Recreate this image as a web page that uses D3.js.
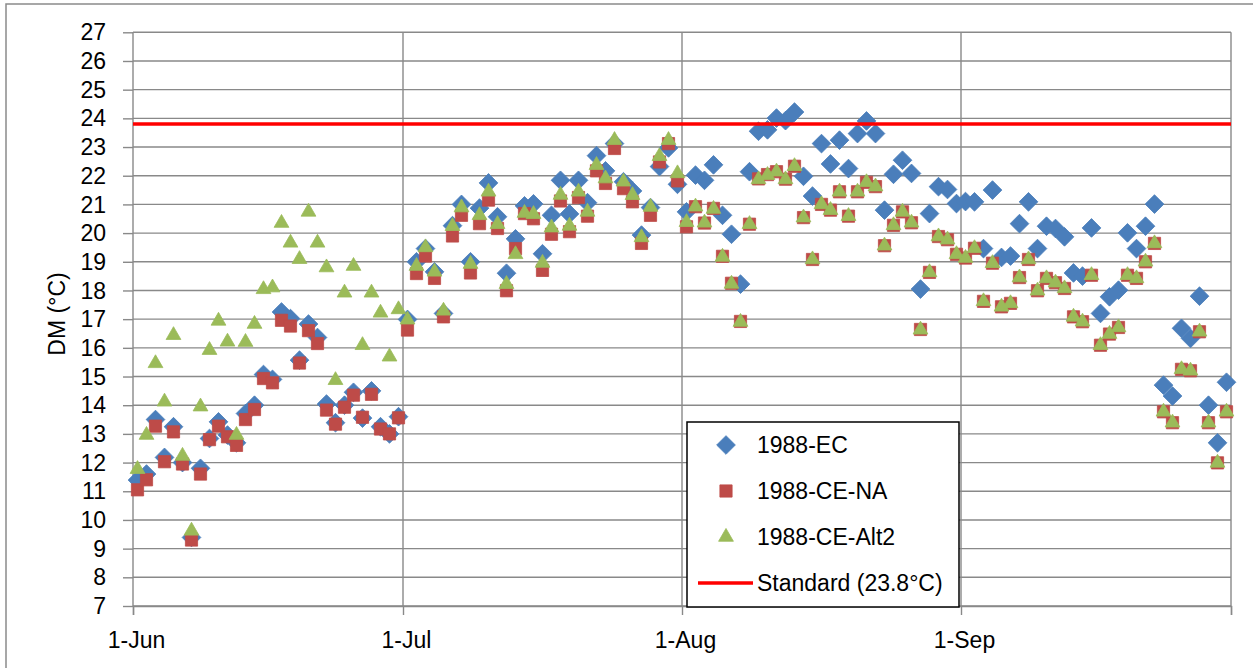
<!DOCTYPE html>
<html>
<head>
<meta charset="utf-8">
<script src="https://cdn.jsdelivr.net/npm/d3@7"></script>
<style>
    body { margin: 0; background: #fff; }
    text { font-family: "Liberation Sans", Arial, sans-serif; font-size: 23px; fill: #000; }
</style>
</head>
<body>
<div class="dmChart"></div>
<script>
// daily DM values (°C), 1-Jun .. 30-Sep 1988
const ec = [
    11.39, 11.6, 13.5, 12.18, 13.25, 12.0, 9.39, 11.8, 12.84, 13.42, 12.96, 12.69, 13.71, 14.0, 15.07,
    14.9, 17.25, 17.02, 15.57, 16.83, 16.36, 14.04, 13.39, 14.0, 14.45, 13.55, 14.5, 13.25, 13.0, 13.6,
    16.99, 19.0, 19.46, 18.65, 17.2, 20.26, 21.0, 19.0, 20.87, 21.75, 20.57, 18.6, 19.8, 20.95, 21.02, 19.28,
    20.62, 21.84, 20.67, 21.84, 21.06, 22.7, 22.17, 23.12, 21.79, 21.47, 19.93, 20.89, 22.32, 22.97, 21.7,
    20.74, 22.02, 21.84, 22.38, 20.62, 19.96, 18.22, 22.14, 23.55, 23.6, 24.01, 23.92, 24.22, 21.98, 21.29, 23.12,
    22.41, 23.24, 22.25, 23.47, 23.91, 23.47, 20.8, 22.05, 22.54, 22.08, 18.05, 20.68, 21.62, 21.52, 21.03,
    21.1, 21.09, 19.46, 21.5, 19.15, 19.2, 20.33, 21.09, 19.46, 20.24, 20.16, 19.87, 18.61, 18.5, 20.18,
    17.2, 17.78, 18.01, 20.01, 19.46, 20.24, 21.01, 14.7, 14.32, 16.68, 16.33, 17.8, 14.0, 12.69, 14.8
];
const ceNA = [
    11.05, 11.4, 13.27, 12.03, 13.07, 11.95, 9.3, 11.6, 12.8, 13.27, 12.9, 12.6, 13.5, 13.85, 14.93,
    14.78, 16.96, 16.76, 15.47, 16.6, 16.15, 13.83, 13.34, 13.93, 14.35, 13.58, 14.38, 13.17, 13.0, 13.56,
    16.62, 18.59, 19.2, 18.42, 17.08, 19.9, 20.62, 18.61, 20.33, 21.15, 20.16, 17.99, 19.46, 20.68, 20.5, 18.7,
    19.96, 21.12, 20.05, 21.24, 20.59, 22.17, 21.73, 22.95, 21.55, 21.09, 19.64, 20.62, 22.48, 23.12, 21.82,
    20.22, 20.92, 20.35, 20.86, 19.19, 18.25, 16.92, 20.31, 21.89, 22.04, 22.14, 21.88, 22.33, 20.54, 19.08, 21.0,
    20.8, 21.44, 20.59, 21.44, 21.77, 21.62, 19.56, 20.27, 20.74, 20.36, 16.64, 18.63, 19.88, 19.77, 19.26,
    19.13, 19.47, 17.62, 18.95, 17.43, 17.55, 18.45, 19.08, 17.99, 18.42, 18.27, 18.07, 17.08, 16.91, 18.53,
    16.09, 16.48, 16.71, 18.53, 18.42, 19.0, 19.64, 13.77, 13.39, 15.25, 15.2, 16.56, 13.39, 11.99, 13.77
];
const ceAlt2 = [
    11.77, 12.96, 15.46, 14.12, 16.44, 12.23, 9.62, 13.95, 15.92, 16.94, 16.21, 12.96, 16.2, 16.83, 18.04,
    18.1, 20.35, 19.66, 19.09, 20.74, 19.66, 18.8, 14.87, 17.92, 18.85, 16.09, 17.92, 17.22, 15.69, 17.34,
    16.98, 18.85, 19.5, 18.65, 17.29, 20.24, 20.89, 18.92, 20.62, 21.44, 20.31, 18.22, 19.26, 20.7, 20.66, 18.96,
    20.19, 21.33, 20.25, 21.44, 20.74, 22.37, 21.9, 23.24, 21.79, 21.32, 19.85, 20.91, 22.68, 23.24, 22.08,
    20.38, 20.92, 20.36, 20.84, 19.17, 18.23, 16.9, 20.31, 21.87, 22.02, 22.14, 21.87, 22.33, 20.54, 19.08, 21.0,
    20.8, 21.44, 20.59, 21.44, 21.77, 21.62, 19.56, 20.27, 20.74, 20.36, 16.63, 18.63, 19.88, 19.77, 19.26,
    19.13, 19.47, 17.62, 18.95, 17.43, 17.55, 18.45, 19.08, 17.99, 18.42, 18.27, 18.07, 17.08, 16.91, 18.53,
    16.09, 16.48, 16.71, 18.53, 18.42, 19.0, 19.64, 13.77, 13.39, 15.25, 15.2, 16.56, 13.39, 11.99, 13.77
];
const standard = 23.8;

const seriesNames = ["1988-EC", "1988-CE-NA", "1988-CE-Alt2"];
const seriesColors = ["#4a7ebb", "#be4b48", "#9bbb59"];
const yTicks = d3.range(7, 28);

class DMChart
{
    constructor()
    {
        this.svg = d3.select(".dmChart").append("svg")
            .attr("width", 1253)
            .attr("height", 668);

        // one date per value, plotted at midday
        this.days = d3.timeDay.range(new Date(1988, 5, 1), new Date(1988, 9, 1))
            .map(d => d3.timeHour.offset(d, 12));

        this.x = d3.scaleTime()
            .domain([new Date(1988, 5, 1), new Date(1988, 9, 1)])
            .range([133, 1231]);
        this.y = d3.scaleLinear().domain([7, 27]).range([606, 32.3]);
    }

    drawFrame()
    {
        this.svg.append("rect")
            .attr("x", 6).attr("y", 4)
            .attr("width", 1300).attr("height", 700)
            .attr("fill", "#fff")
            .attr("stroke", "#8a8a8a")
            .attr("stroke-width", 1.5);
    }

    drawAxes()
    {
        let svg = this.svg;

        // horizontal grid + y ticks
        let yAxis = svg.append("g")
            .attr("transform", "translate(133,0)")
            .call(d3.axisLeft(this.y).tickValues(yTicks).tickSize(10).tickPadding(17).tickFormat(d3.format("d")));
        yAxis.select(".domain").remove();
        yAxis.selectAll("line").attr("stroke", "#898989").attr("stroke-width", 1.4);
        yAxis.selectAll("text").attr("dy", "0.33em").style("font-size", "23px");

        svg.append("g").selectAll("line")
            .data(yTicks)
            .enter()
            .append("line")
            .attr("x1", 133).attr("x2", 1231)
            .attr("y1", d => this.y(d)).attr("y2", d => this.y(d))
            .attr("stroke", "#898989")
            .attr("stroke-width", 1.4);

        // months
        let months = d3.timeMonth.range(new Date(1988, 5, 1), new Date(1988, 9, 2));
        svg.append("g").selectAll("line")
            .data(months)
            .enter()
            .append("line")
            .attr("x1", d => this.x(d)).attr("x2", d => this.x(d))
            .attr("y1", 32.3).attr("y2", 606)
            .attr("stroke", "#898989")
            .attr("stroke-width", 1.4);

        let xAxis = svg.append("g")
            .attr("transform", "translate(0,606)")
            .call(d3.axisBottom(this.x).tickValues(months).tickSize(9).tickPadding(17)
                .tickFormat(d => d.getMonth() == 9 ? "" : d3.timeFormat("%-d-%b")(d)));
        xAxis.select(".domain").attr("stroke", "#898989").attr("stroke-width", 1.4);
        xAxis.selectAll("line").attr("stroke", "#898989").attr("stroke-width", 1.4);
        xAxis.selectAll("text").attr("dx", 3).style("font-size", "23px");

        svg.append("text")
            .attr("transform", "translate(57,314) rotate(-90)")
            .attr("text-anchor", "middle")
            .attr("dy", "0.35em")
            .text("DM (°C)");
    }

    marker(i)
    {
        if (i == 0) return d3.symbol().type(d3.symbolSquare).size(175)();
        if (i == 1) return d3.symbol().type(d3.symbolSquare).size(150)();
        return d3.symbol().type(d3.symbolTriangle).size(95)();
    }

    drawSeries()
    {
        let all = [ec, ceNA, ceAlt2];
        all.forEach((vals, i) => {
            this.svg.append("g").selectAll("path")
                .data(vals)
                .enter()
                .append("path")
                .attr("d", this.marker(i))
                .attr("transform", (d, j) => "translate(" + this.x(this.days[j]) + "," + this.y(d) + ")" + (i == 0 ? " rotate(45)" : ""))
                .attr("fill", seriesColors[i])
                .attr("stroke", seriesColors[i])
                .attr("stroke-width", 0.8);
        });

        // standard line
        this.svg.append("line")
            .attr("x1", 133).attr("x2", 1231)
            .attr("y1", this.y(standard)).attr("y2", this.y(standard))
            .attr("stroke", "#ff0000")
            .attr("stroke-width", 3.5);
    }

    drawLegend()
    {
        let lg = this.svg.append("g");
        lg.append("rect")
            .attr("x", 687).attr("y", 422)
            .attr("width", 272).attr("height", 185)
            .attr("fill", "#fff")
            .attr("stroke", "#000")
            .attr("stroke-width", 1.5);

        seriesNames.forEach((name, i) => {
            let cy = 445 + i * 46;
            lg.append("path")
                .attr("d", this.marker(i))
                .attr("transform", "translate(726," + cy + ")" + (i == 0 ? " rotate(45)" : ""))
                .attr("fill", seriesColors[i])
                .attr("stroke", seriesColors[i])
                .attr("stroke-width", 0.8);
            lg.append("text").attr("x", 757).attr("y", cy + 8).text(name);
        });

        lg.append("line")
            .attr("x1", 698).attr("x2", 753)
            .attr("y1", 583).attr("y2", 583)
            .attr("stroke", "#ff0000")
            .attr("stroke-width", 3.5);
        lg.append("text").attr("x", 757).attr("y", 591).text("Standard (" + standard + "°C)");
    }
}

let chart = new DMChart();
chart.drawFrame();
chart.drawAxes();
chart.drawSeries();
chart.drawLegend();
</script>
</body>
</html>
